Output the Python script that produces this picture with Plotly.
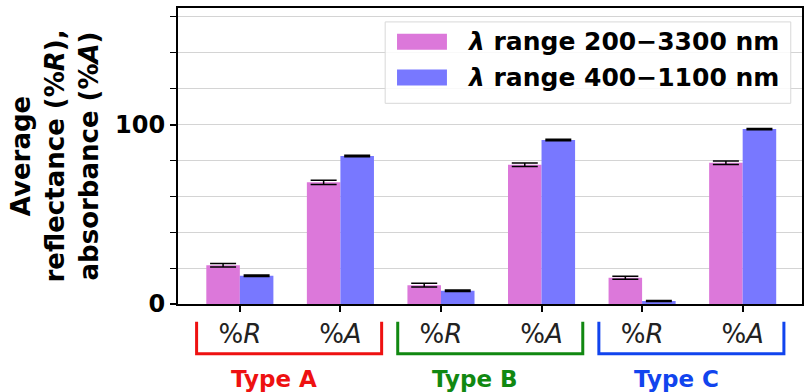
import plotly.graph_objects as go

# ---- data ----
categories = ["%<i>R</i>", "%<i>A</i>", "%<i>R</i>", "%<i>A</i>", "%<i>R</i>", "%<i>A</i>"]
groups = ["Type A", "Type B", "Type C"]
series_names = ["<i>λ</i> range 200−3300 nm", "<i>λ</i> range 400−1100 nm"]
wide_vals = [21.6, 67.8, 10.5, 77.6, 14.6, 78.7]
wide_err = [1.0, 1.2, 1.0, 1.0, 0.8, 1.0]
narrow_vals = [15.7, 82.5, 7.4, 91.4, 1.7, 97.5]
narrow_err = [0.4, 0.4, 0.4, 0.4, 0.3, 0.3]
y_ticks = [0, 100]

pink = "#DC78DA"
blue = "#7878FF"
group_colors = ["#EE1111", "#118811", "#1144EE"]

xpos = list(range(len(categories)))
FONT = "DejaVu Sans"

fig = go.Figure()
fig.add_trace(go.Bar(x=xpos, y=wide_vals, name=series_names[0], marker_color=pink,
                     marker_line_width=0, showlegend=False,
                     error_y=dict(type="data", array=wide_err, color="black", thickness=1.5, width=13)))
fig.add_trace(go.Bar(x=xpos, y=narrow_vals, name=series_names[1], marker_color=blue,
                     marker_line_width=0, showlegend=False,
                     error_y=dict(type="data", array=narrow_err, color="black", thickness=1.5, width=13)))

shapes = []
annotations = []
for gi, g in enumerate(groups):
    a = gi * 2
    x0, x1 = a - 0.43, a + 1 + 0.41
    c = group_colors[gi]
    shapes.append(dict(type="path", xref="x", yref="paper",
                       path=f"M {x0},-0.06 L {x0},-0.168 L {x1},-0.168 L {x1},-0.06",
                       line=dict(color=c, width=3)))
    annotations.append(dict(text=f"<b>{g}</b>", xref="x", yref="paper", x=a + 0.34, y=-0.255,
                            showarrow=False, font=dict(family=FONT, size=23, color=c),
                            xanchor="center", yanchor="middle"))

# legend box (manual)
shapes.append(dict(type="rect", xref="paper", yref="paper", x0=0.332, x1=0.982, y0=0.678, y1=0.953,
                   line=dict(color="#d8d8d8", width=1), fillcolor="rgba(255,255,255,0.85)"))
for i, (col, nm) in enumerate(zip([pink, blue], series_names)):
    yc = 0.886 - i * 0.121
    shapes.append(dict(type="rect", xref="paper", yref="paper", x0=0.351, x1=0.431,
                       y0=yc - 0.027, y1=yc + 0.027, line=dict(width=0), fillcolor=col))
    annotations.append(dict(text=f"<b>{nm}</b>", xref="paper", yref="paper", x=0.460, y=yc,
                            showarrow=False, xanchor="left", yanchor="middle",
                            font=dict(family=FONT, size=25, color="black")))

fig.update_layout(
    width=811, height=392,
    margin=dict(l=178, r=9, t=6, b=88),
    paper_bgcolor="white", plot_bgcolor="white",
    barmode="group", bargap=0.333, bargroupgap=0,
    shapes=shapes, annotations=annotations,
    font=dict(family=FONT, color="black"),
)
fig.update_xaxes(
    range=[-0.615, 5.59], tickvals=xpos, ticktext=categories,
    ticks="outside", ticklen=6, tickwidth=1.5, tickcolor="black",
    tickfont=dict(family=FONT, size=26, color="#222"),
    showline=True, linecolor="black", linewidth=2, mirror=True, showgrid=False, zeroline=False,
)
fig.update_yaxes(
    range=[0, 165], tickvals=y_ticks, ticktext=["<b>0</b>", "<b>100</b>"],
    ticks="outside", ticklen=6, tickwidth=1.5, tickcolor="black",
    tickfont=dict(family=FONT, size=24, color="black"),
    showline=True, linecolor="black", linewidth=2, mirror=True,
    showgrid=True, gridcolor="#d4d4d4", gridwidth=1, zeroline=False,
    minor=dict(dtick=20, tick0=0, ticks="outside", ticklen=6, tickwidth=1.2, tickcolor="black",
               showgrid=True, gridcolor="#d4d4d4", gridwidth=1),
    title=dict(text="<b>Average<br>reflectance (%<i>R</i>),<br>absorbance (%<i>A</i>)</b>",
               font=dict(family=FONT, size=26, color="black"), standoff=9),
)

fig.write_html("out.html", config={"displayModeBar": False},
               post_script="document.body.style.margin='0';document.body.style.overflow='hidden';")
